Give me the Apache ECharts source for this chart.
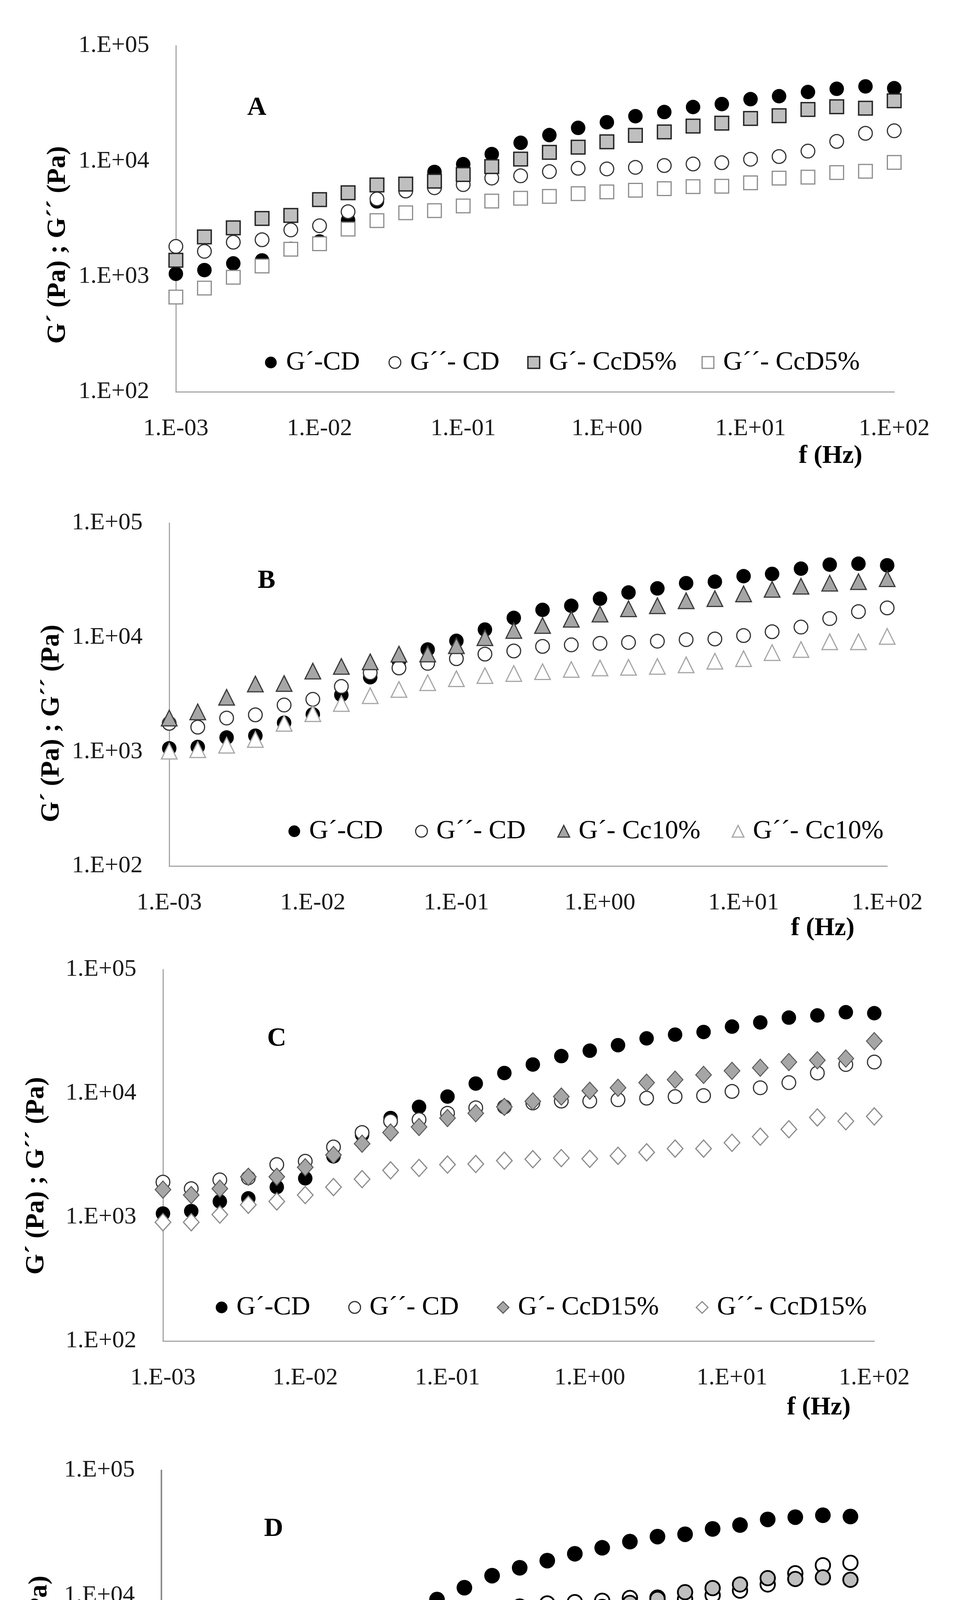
<!DOCTYPE html>
<html>
<head>
<meta charset="utf-8">
<script src="https://cdn.jsdelivr.net/npm/echarts@6/dist/echarts.min.js"></script>
<style>
html,body{margin:0;padding:0;background:#fff;}
#c{width:2441px;height:4974px;}
</style>
</head>
<body>
<div id="c"></div>
<script>
// ---- data (frequency in Hz, moduli in Pa) ----
const freq = [0.001,0.00158,0.00251,0.00398,0.00631,0.01,0.0158,0.0251,0.0398,0.0631,0.1,0.158,0.251,0.398,0.631,1,1.58,2.51,3.98,6.31,10,15.8,25.1,39.8,63.1,100];
const xTicks = ['1.E-03','1.E-02','1.E-01','1.E+00','1.E+01','1.E+02'];
const yTicks = ['1.E+02','1.E+03','1.E+04','1.E+05'];

// Panel A
const A_GpCD    = [1054,1135,1297,1377,1734,2008,3070,4470,6000,8050,9400,11500,14400,16800,19400,21700,24500,26600,29400,31200,34400,36500,39700,42300,44400,42800];
const A_GppCD   = [1820,1650,1980,2080,2530,2750,3640,4700,5500,5870,6250,7120,7450,8100,8660,8550,8820,9150,9440,9680,10370,10950,12200,14800,17400,18300];
const A_GpCcD5  = [1380,2200,2640,3180,3380,4630,5310,6210,6320,6700,7650,8960,10400,11900,13200,14700,16700,17900,20100,21300,23400,24700,28000,29600,28700,33300];
const A_GppCcD5 = [662,792,984,1230,1720,1920,2570,3050,3560,3720,4080,4500,4760,4940,5220,5410,5590,5760,6010,6050,6480,7110,7250,7950,8150,9730];
// Panel B
const B_GpCD    = [1070,1100,1330,1380,1790,2120,3140,4480,6180,7830,9330,11700,14800,17400,18900,21800,24700,26800,29800,30700,34300,35900,39900,43300,44100,42700];
const B_GppCD   = [1770,1640,1970,2100,2560,2870,3720,4900,5400,5930,6510,7140,7600,8340,8600,8870,9030,9260,9560,9680,10370,11200,12300,14600,16800,18100];
const B_GpCc10  = [1970,2230,2990,3910,3950,5070,5570,6110,7140,7160,8450,9930,11500,12700,14400,16000,17800,18900,20900,21800,24000,26300,28000,29800,30700,32600];
const B_GppCc10 = [1010,1040,1140,1280,1770,2150,2640,3090,3500,4010,4350,4630,4830,5010,5240,5400,5470,5570,5750,6190,6510,7360,7830,9150,9150,10200];
// Panel C
const C_GpCD     = [1070,1120,1340,1420,1750,2060,3100,4630,6320,7780,9420,12000,14600,17100,20000,22100,24500,27800,29800,31300,34600,37400,40900,42600,45200,44400];
const C_GppCD    = [1920,1700,2000,2080,2660,2830,3690,4830,5960,6140,6910,7650,7780,8360,8660,8660,8880,9150,9420,9590,10370,11100,12200,14600,17100,17900];
const C_GpCcD15  = [1670,1510,1700,2120,2120,2530,3180,3920,4830,5350,6320,6910,7780,8610,9420,10500,11100,12200,12900,14100,15200,16100,17900,18500,19100,26400];
const C_GppCcD15 = [910,910,1050,1260,1340,1510,1750,2030,2390,2500,2660,2690,2860,2940,3000,2960,3130,3340,3580,3580,3990,4470,5130,6390,5960,6510];
// Panel D
const D_GpCD    = [1080,1120,1350,1390,1780,2120,3050,4460,6240,7850,9320,11580,14450,16700,19050,21600,24100,27000,29600,30900,34100,36600,40600,42300,43800,42800];
const D_GppCD   = [1860,1710,2010,2090,2570,2880,3740,4720,5560,6070,6530,7300,7610,8200,8680,8890,9110,9600,9670,9380,10070,10970,12300,15100,17500,18300];
const D_GpCc20  = [533,681,859,1000,1220,1480,1760,2180,2850,3410,4040,4660,5340,6020,6660,7350,8130,8760,9420,10660,11500,12300,13800,13600,14000,13400];
const D_GppCc20 = [365,454,573,681,835,1020,1200,1520,1760,1935,2125,2220,2320,2380,2425,2480,2545,2625,2740,2970,3200,3530,4040,4720,4920,4720];

// ---- helpers ----
const FONT = 'Liberation Serif';
function sci(v, ticks) {
  const e = Math.round(Math.log10(v));
  const s = '1.E' + (e < 0 ? '-' : '+') + String(Math.abs(e)).padStart(2, '0');
  return ticks.indexOf(s) >= 0 ? s : '';
}
function pts(vals) { return freq.map((f, i) => [f, vals[i]]); }

const panels = [
  { grid: {left: 450, top: 117, width: 1838, height: 886}, letter: 'A', letterPos: [657, 276],
    ytitle: [148, 627], fhz: [2125, 1168], legendY: 928, axisColor: '#a6a6a6', axisWidth: 3, iconSize: 30, textOff: 39,
    series: [
      {name: 'G´-CD', data: A_GpCD, symbol: 'circle', size: 37, style: {color: '#000'}, lx: 693},
      {name: 'G´´- CD', data: A_GppCD, symbol: 'circle', size: 35, style: {color: '#fff', borderColor: '#333', borderWidth: 3}, lx: 1009},
      {name: 'G´- CcD5%', data: A_GpCcD5, symbol: 'rect', size: 35, style: {color: '#bfbfbf', borderColor: '#262626', borderWidth: 3.5}, lx: 1364},
      {name: 'G´´- CcD5%', data: A_GppCcD5, symbol: 'rect', size: 35, style: {color: '#fff', borderColor: '#8c8c8c', borderWidth: 3}, lx: 1810}
    ]},
  { grid: {left: 433, top: 1339, width: 1837, height: 878}, letter: 'B', letterPos: [682, 1487],
    ytitle: [132, 1852], fhz: [2105, 2377], legendY: 2128, axisColor: '#a6a6a6', axisWidth: 3, iconSize: 30, textOff: 38,
    series: [
      {name: 'G´-CD', data: B_GpCD, symbol: 'circle', size: 37, style: {color: '#000'}, lx: 753},
      {name: 'G´´- CD', data: B_GppCD, symbol: 'circle', size: 35, style: {color: '#fff', borderColor: '#333', borderWidth: 3}, lx: 1077},
      {name: 'G´- Cc10%', data: B_GpCc10, symbol: 'triangle', size: 40, style: {color: '#a6a6a6', borderColor: '#3a3a3a', borderWidth: 3}, lx: 1441},
      {name: 'G´´- Cc10%', data: B_GppCc10, symbol: 'triangle', size: 40, style: {color: '#fff', borderColor: '#a6a6a6', borderWidth: 3}, lx: 1887}
    ]},
  { grid: {left: 417, top: 2482, width: 1820, height: 951}, letter: 'C', letterPos: [708, 2659],
    ytitle: [93, 3010], fhz: [2095, 3604], legendY: 3347, axisColor: '#a6a6a6', axisWidth: 3, iconSize: 30, textOff: 38,
    series: [
      {name: 'G´-CD', data: C_GpCD, symbol: 'circle', size: 37, style: {color: '#000'}, lx: 567},
      {name: 'G´´- CD', data: C_GppCD, symbol: 'circle', size: 35, style: {color: '#fff', borderColor: '#333', borderWidth: 3}, lx: 906},
      {name: 'G´- CcD15%', data: C_GpCcD15, symbol: 'diamond', size: [40, 44], style: {color: '#a6a6a6', borderColor: '#595959', borderWidth: 2.5}, lx: 1286},
      {name: 'G´´- CcD15%', data: C_GppCcD15, symbol: 'diamond', size: [40, 44], style: {color: '#fff', borderColor: '#8c8c8c', borderWidth: 3}, lx: 1795}
    ]},
  { grid: {left: 413, top: 3764, width: 1763, height: 963}, letter: 'D', letterPos: [700, 3914],
    ytitle: [101, 4295], fhz: [2061, 4885], legendY: 4635, axisColor: '#8c8c8c', axisWidth: 4, iconSize: 34, textOff: 37,
    series: [
      {name: 'G´-CD', data: D_GpCD, symbol: 'circle', size: 40, style: {color: '#000'}, lx: 741},
      {name: 'G´´- CD', data: D_GppCD, symbol: 'circle', size: 37, style: {color: '#fff', borderColor: '#000', borderWidth: 4.5}, lx: 1055},
      {name: 'G´- Cc20%', data: D_GpCc20, symbol: 'circle', size: 37, style: {color: '#bfbfbf', borderColor: '#000', borderWidth: 4.5}, lx: 1407},
      {name: 'G"- Cc20%', data: D_GppCc20, symbol: 'circle', size: 37, style: {color: '#fff', borderColor: '#8c8c8c', borderWidth: 4.5}, lx: 1837}
    ]}
];

const option = {
  backgroundColor: '#fff',
  animation: false,
  grid: [], xAxis: [], yAxis: [], series: [], legend: [],
  graphic: []
};

panels.forEach((p, k) => {
  option.grid.push(Object.assign({containLabel: false}, p.grid));
  const lineStyle = {color: p.axisColor, width: p.axisWidth};
  const lbl = {fontFamily: FONT, fontSize: 62, color: '#1a1a1a'};
  option.xAxis.push({
    type: 'log', logBase: 10, gridIndex: k, min: 0.001, max: 100,
    axisLine: {show: true, lineStyle}, axisTick: {show: false}, minorTick: {show: false},
    splitLine: {show: false}, minorSplitLine: {show: false},
    axisLabel: Object.assign({margin: 64, formatter: v => sci(v, xTicks), showMinLabel: true, showMaxLabel: true}, lbl)
  });
  option.yAxis.push({
    type: 'log', logBase: 10, gridIndex: k, min: 100, max: 100000,
    axisLine: {show: true, lineStyle}, axisTick: {show: false}, minorTick: {show: false},
    splitLine: {show: false}, minorSplitLine: {show: false},
    axisLabel: Object.assign({margin: 68, formatter: v => sci(v, yTicks), showMinLabel: true, showMaxLabel: true}, lbl)
  });
  const half = p.iconSize / 2;
  p.series.forEach(s => {
    option.series.push({
      type: 'scatter', name: s.name, xAxisIndex: k, yAxisIndex: k,
      symbol: s.symbol, symbolSize: s.size, data: pts(s.data),
      itemStyle: Object.assign({opacity: 1}, s.style),
      emphasis: {disabled: true}
    });
    option.legend.push({
      left: s.lx - half, top: p.legendY - 35, padding: 0, orient: 'horizontal',
      itemWidth: p.iconSize, itemHeight: p.iconSize, selectedMode: false,
      data: [{name: s.name, icon: s.symbol, itemStyle: Object.assign({}, s.style)}],
      textStyle: {fontFamily: FONT, fontSize: 68, lineHeight: 70, color: '#000',
                  padding: [0, 0, 0, p.textOff - half - 5]}
    });
  });
  option.graphic.push(
    {type: 'text', x: p.letterPos[0], y: p.letterPos[1],
     style: {text: p.letter, font: 'bold 68px "' + FONT + '"', fill: '#000', textAlign: 'center', textVerticalAlign: 'middle'}},
    {type: 'text', x: p.fhz[0], y: p.fhz[1],
     style: {text: 'f (Hz)', font: 'bold 66px "' + FONT + '"', fill: '#000', textAlign: 'center', textVerticalAlign: 'middle'}},
    {type: 'text', x: p.ytitle[0], y: p.ytitle[1], rotation: Math.PI / 2,
     style: {text: k === 3 ? 'G´ (Pa) ;  G´´ (Pa)' : 'G´ (Pa) ; G´´ (Pa)', font: 'bold 68px "' + FONT + '"', fill: '#000', textAlign: 'center', textVerticalAlign: 'middle'}}
  );
});

const chart = echarts.init(document.getElementById('c'), null, {renderer: 'canvas'});
chart.setOption(option);
</script>
</body>
</html>
